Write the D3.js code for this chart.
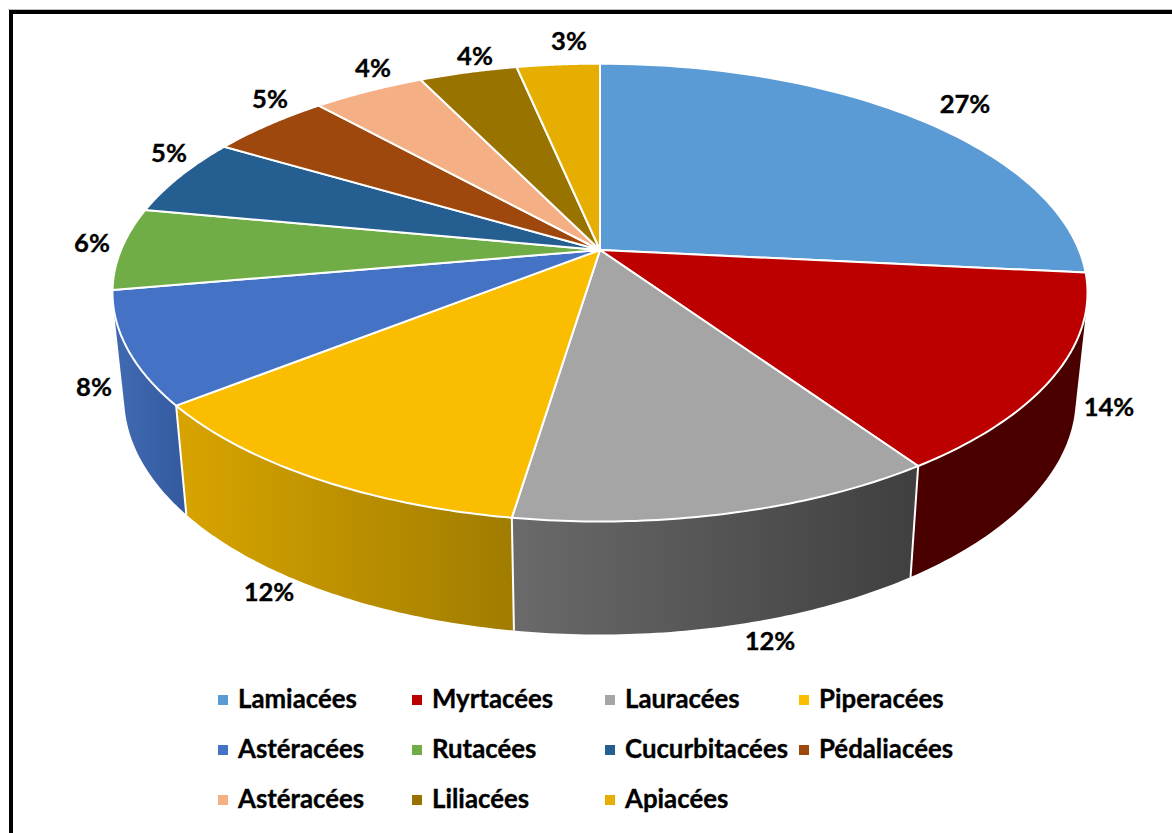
<!DOCTYPE html>
<html><head><meta charset="utf-8">
<script src="https://cdn.jsdelivr.net/npm/d3@7"></script>
<style>html,body{margin:0;padding:0;background:#fff}svg{display:block}text{font-family:Lato,"Open Sans",sans-serif;font-weight:700;fill:#000;stroke:#000;stroke-width:.35px}</style>
</head><body><svg id="c" width="1172" height="833"></svg>
<script>
const categories=["Lamiacées","Myrtacées","Lauracées","Piperacées","Astéracées","Rutacées","Cucurbitacées","Pédaliacées","Astéracées","Liliacées","Apiacées"];
const shares=[26.6,13.9,11.9,11.9,7.9,5.8,5.55,4.8,4.45,3.9,3.3];
const percentLabels=["27%","14%","12%","12%","8%","6%","5%","5%","4%","4%","3%"];
const colors=["#5B9BD5","#BC0000","#A5A5A5","#FBBD00","#4472C4","#70AD47","#255E91","#9E480E","#F4AF84","#997300","#E5AE00"];
const sideFrom=["#2f5f8f","#4b0000","#6a6a6a","#d6a300","#3f68b0","#3f68b0","#255e91","#9e480e","#f4af84","#997300","#e5ae00"];
const sideTo=["#2f5f8f","#4b0000","#404040","#a07c00","#335a9f","#3f68b0","#255e91","#9e480e","#f4af84","#997300","#e5ae00"];
const labelX=[965,1109,770,269,94,92,169,270,373,475,569];
const labelY=[103,406,640,591,386,242,152,98,67,55,40];
const legendColX=[218,412,605,799];
const legendRowY=[698,748,798];

const svg=d3.select("#c");
const cx=600,cy=250,A=479,B=221,p=0.186;
const topPt=t=>{const w=1+p*Math.cos(t);return [cx+A*Math.sin(t)/w,cy-B*Math.cos(t)/w]};
const botPt=t=>{const [x,y]=topPt(t);return [cx+0.976*(x-cx),cy+103.5+1.035*(y-cy)]};
const arcs=d3.pie().sort(null).value(d=>d)(shares);
const samples=(a,b)=>d3.range(0,61).map(i=>a+(b-a)*i/60);
const line=d3.line();
const defs=svg.append("defs");

// frame
svg.append("rect").attr("x",8).attr("y",9).attr("width",1164).attr("height",1).attr("fill","#bbb");
svg.append("rect").attr("x",9).attr("y",10).attr("width",1163).attr("height",4).attr("fill","#000");
svg.append("rect").attr("x",9).attr("y",10).attr("width",4).attr("height",823).attr("fill","#000");

// side walls: front-facing slices only, each the hull of its top and bottom arcs
arcs.forEach((d,i)=>{
  const mid=(d.startAngle+d.endAngle)/2;
  if(mid<Math.PI/2||mid>Math.PI*1.5) return;
  const ts=samples(d.startAngle,d.endAngle);
  const bot=ts.map(botPt), tp=ts.map(topPt);
  const xs=bot.map(q=>q[0]);
  const g=defs.append("linearGradient").attr("id","g"+i).attr("gradientUnits","userSpaceOnUse")
    .attr("x1",d3.min(xs)).attr("x2",d3.max(xs)).attr("y1",0).attr("y2",0);
  g.append("stop").attr("offset",0).attr("stop-color",sideFrom[i]);
  g.append("stop").attr("offset",1).attr("stop-color",sideTo[i]);
  svg.append("path").attr("d",line(d3.polygonHull(tp.concat(bot)))+"Z").attr("fill",`url(#g${i})`);
});
// seams between front walls
arcs.forEach(d=>{
  if(d.endAngle>Math.PI*0.6&&d.endAngle<Math.PI*1.4){
    svg.append("path").attr("d",line([topPt(d.endAngle),botPt(d.endAngle)])).attr("stroke","#fff").attr("stroke-width",2).attr("fill","none");
  }
});
// top faces
arcs.forEach((d,i)=>{
  const pts=[[cx,cy]].concat(samples(d.startAngle,d.endAngle).map(topPt));
  svg.append("path").attr("d",line(pts)+"Z").attr("fill",colors[i])
    .attr("stroke","#fff").attr("stroke-width",2).attr("stroke-linejoin","round");
});
// data labels
svg.selectAll("text.l").data(percentLabels).join("text").attr("class","l")
  .attr("x",(d,i)=>labelX[i]).attr("y",(d,i)=>labelY[i]).attr("text-anchor","middle")
  .attr("dominant-baseline","central").attr("font-size",25.6).text(d=>d);
// legend
categories.forEach((c,i)=>{
  const col=i%4,row=Math.floor(i/4);
  svg.append("rect").attr("x",legendColX[col]).attr("y",legendRowY[row]-3).attr("width",10).attr("height",10).attr("fill",colors[i]);
  svg.append("text").attr("x",legendColX[col]+20).attr("y",legendRowY[row]).attr("dominant-baseline","central").attr("font-size",25.8).text(c);
});
</script></body></html>
